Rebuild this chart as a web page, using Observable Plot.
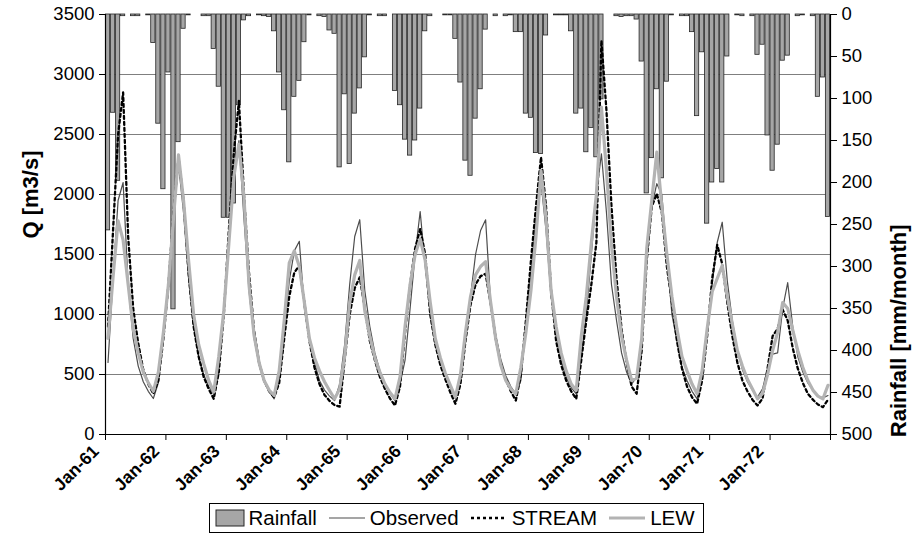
<!DOCTYPE html>
<html><head><meta charset="utf-8">
<script src="https://cdn.jsdelivr.net/npm/d3@7"></script>
<script src="https://cdn.jsdelivr.net/npm/@observablehq/plot@0.6"></script>
<style>
body{margin:0;background:#fff;font-family:"Liberation Sans",Arial,sans-serif;}
#wrap{width:913px;}
.legendRow{display:flex;justify-content:center;margin-top:3px;}
.legend{border:1px solid #000;display:flex;align-items:center;height:28px;padding:0 5px;font-size:20.5px;color:#000;}
.legend svg{display:block;margin-right:3px;}
.legend span{margin-right:10px;}
.legend span:last-child{margin-right:3px;}
</style></head><body><div id="wrap"></div>
<script>
const yearLabels = ["Jan-61","Jan-62","Jan-63","Jan-64","Jan-65","Jan-66","Jan-67","Jan-68","Jan-69","Jan-70","Jan-71","Jan-72"];
const qTicks = [0,500,1000,1500,2000,2500,3000,3500];
const rainTicks = [0,50,100,150,200,250,300,350,400,450,500];

// monthly rainfall [mm/month], Jan-61 .. Dec-72
const rainfall = [
 257,117,198,2,0,2,2,0,1,34,130,208,
 69,351,152,17,1,0,0,2,2,41,86,242,
 242,225,108,7,2,0,1,2,3,20,69,114,
 176,98,79,33,1,0,2,3,19,23,182,95,
 178,118,88,51,1,0,2,2,0,91,108,149,
 168,150,112,20,2,0,0,1,1,29,81,174,
 192,124,89,18,0,2,0,2,1,21,21,118,
 123,165,166,25,0,1,1,1,20,118,112,164,
 135,170,101,0,0,2,3,2,2,6,56,213,
 171,89,195,80,1,0,2,2,21,121,45,249,
 200,184,200,50,0,1,2,0,2,48,36,144,
 186,155,55,49,0,2,1,0,2,98,75,241
];
// observed discharge [m3/s]
const observed = [
 600,1300,1950,2100,1250,800,570,440,360,300,430,820,
 1200,1800,2250,1850,1300,900,650,500,400,336,550,1000,
 1600,2150,2450,1800,1200,800,580,440,360,297,450,870,
 1280,1530,1610,1050,780,600,450,370,320,283,420,750,
 1250,1650,1790,1200,900,680,530,420,340,283,420,620,
 1050,1500,1858,1400,1000,780,620,500,390,300,480,800,
 1150,1500,1700,1789,1100,830,630,490,400,339,450,900,
 1350,1800,2100,1700,1150,850,620,480,390,339,650,1000,
 1500,2000,2339,1850,1250,950,680,520,420,480,800,1450,
 1900,2090,2000,1500,1000,780,560,450,360,297,500,850,
 1250,1600,1769,1280,950,700,540,440,370,311,380,550,
 670,680,1050,1265,900,650,520,430,370,320,305,325
];
// STREAM model
const stream = [
 900,1700,2500,2850,1650,1050,760,540,420,339,450,800,
 1250,1850,2311,1950,1350,900,650,480,380,297,520,1000,
 1700,2350,2780,2000,1350,870,600,450,360,311,430,800,
 1150,1350,1408,1100,780,560,420,330,280,245,232,620,
 1000,1220,1311,1050,780,620,480,380,300,242,400,850,
 1250,1550,1714,1500,1000,750,580,460,350,256,420,780,
 1080,1250,1320,1339,1090,800,590,460,360,283,500,950,
 1450,1900,2311,1900,1200,780,580,450,360,297,620,950,
 1250,1600,3283,2700,1900,1300,880,600,400,340,700,1450,
 1900,2006,1850,1400,1100,780,550,400,310,256,450,820,
 1300,1580,1420,1100,820,600,450,360,290,242,300,550,
 820,880,1040,950,720,550,430,340,290,250,228,290
];
// LEW model
const lew = [
 800,1311,1780,1620,1250,880,680,520,430,360,520,850,
 1250,1800,2330,1950,1450,1000,750,590,450,353,650,1030,
 1590,2150,2420,1980,1250,830,600,450,370,325,530,950,
 1430,1530,1400,1100,800,640,530,440,367,297,380,650,
 1100,1330,1450,1030,820,640,520,420,350,297,480,900,
 1250,1500,1630,1450,1100,800,640,510,410,311,500,850,
 1150,1330,1400,1440,1100,800,580,450,380,339,560,850,
 1200,1650,2200,1800,1200,900,680,530,420,367,820,1150,
 1600,2000,2728,2200,1580,1150,820,620,450,470,800,1550,
 1950,2353,1900,1500,1150,880,650,530,420,339,530,880,
 1190,1300,1408,1150,920,700,570,460,380,297,340,500,
 700,850,1100,1050,870,700,560,450,370,320,297,410
];

const Q_MAX = 3500, RAIN_MAX = 500;
const toQ = r => Q_MAX - r * Q_MAX / RAIN_MAX;
const rows = d3.range(rainfall.length).map(i => ({i, rain: rainfall[i], obs: observed[i], stream: stream[i], lew: lew[i]}));
const font = "Liberation Sans, Arial, sans-serif";

const chart = Plot.plot({
  width: 913, height: 500,
  marginLeft: 105, marginRight: 83, marginTop: 14, marginBottom: 66,
  style: {fontFamily: font, background: "#fff", color: "#000", overflow: "visible"},
  x: {domain: [0, 144], axis: null},
  y: {domain: [0, Q_MAX], axis: null},
  marks: [
    Plot.ruleY(qTicks.filter(d => d > 0 && d < Q_MAX), {stroke: "#7f7f7f", strokeWidth: 1}),
    Plot.rectY(rows.filter(d => d.rain > 0), {x1: d => d.i + 0.08, x2: d => d.i + 0.92, y1: Q_MAX, y2: d => toQ(d.rain), fill: "#a6a6a6", stroke: "#262626", strokeWidth: 0.8}),
    Plot.lineY(rows, {x: d => d.i + 0.5, y: "obs", stroke: "#4d4d4d", strokeWidth: 1.2}),
    Plot.lineY(rows, {x: d => d.i + 0.5, y: "stream", stroke: "#000", strokeWidth: 2.3, strokeDasharray: "3,3"}),
    Plot.lineY(rows, {x: d => d.i + 0.5, y: "lew", stroke: "#b3b3b3", strokeWidth: 3.2}),
    Plot.ruleX([0, 144], {stroke: "#000", strokeWidth: 1.2}),
    Plot.ruleY([0], {stroke: "#000", strokeWidth: 1.2}),
    Plot.axisY(qTicks, {anchor: "left", tickSize: 6, tickPadding: 5, fontSize: 18.5, label: null, tickFormat: d => String(d)}),
    Plot.axisY(rainTicks.map(toQ), {anchor: "right", tickSize: 6, tickPadding: 5, fontSize: 18.5, label: null,
      tickFormat: q => String(Math.round((Q_MAX - q) * RAIN_MAX / Q_MAX))}),
    Plot.axisX(d3.range(0, 145, 12), {tickSize: 6, tickFormat: () => "", label: null}),
    Plot.axisX(yearLabels.map((_, k) => k * 12 + 0.5), {tickSize: 0, tickPadding: 12, tickRotate: -45, fontSize: 17.5, fontWeight: "bold", label: null, dx: -12, dy: 2,
      tickFormat: d => yearLabels[Math.floor(d / 12)]}),
    Plot.text(["Q [m3/s]"], {frameAnchor: "left", dx: -75, dy: 14, rotate: -90, fontSize: 22, fontWeight: "bold", text: d => d}),
    Plot.text(["Rainfall [mm/month]"], {frameAnchor: "right", dx: 68, rotate: -90, fontSize: 22, fontWeight: "bold", text: d => d})
  ]
});
const wrap = document.getElementById("wrap");
wrap.appendChild(chart);

const legend = document.createElement("div");
legend.className = "legendRow";
legend.innerHTML = `<div class="legend">
<svg width="30" height="20"><rect x="1" y="2" width="28" height="16" fill="#a6a6a6" stroke="#262626" stroke-width="1"/></svg><span>Rainfall</span>
<svg width="40" height="20"><line x1="2" x2="38" y1="10" y2="10" stroke="#4d4d4d" stroke-width="1.2"/></svg><span>Observed</span>
<svg width="40" height="20"><line x1="2" x2="38" y1="10" y2="10" stroke="#000" stroke-width="2.3" stroke-dasharray="3,3"/></svg><span>STREAM</span>
<svg width="40" height="20"><line x1="2" x2="38" y1="10" y2="10" stroke="#b3b3b3" stroke-width="3.2"/></svg><span>LEW</span>
</div>`;
wrap.appendChild(legend);
</script>
</body></html>
